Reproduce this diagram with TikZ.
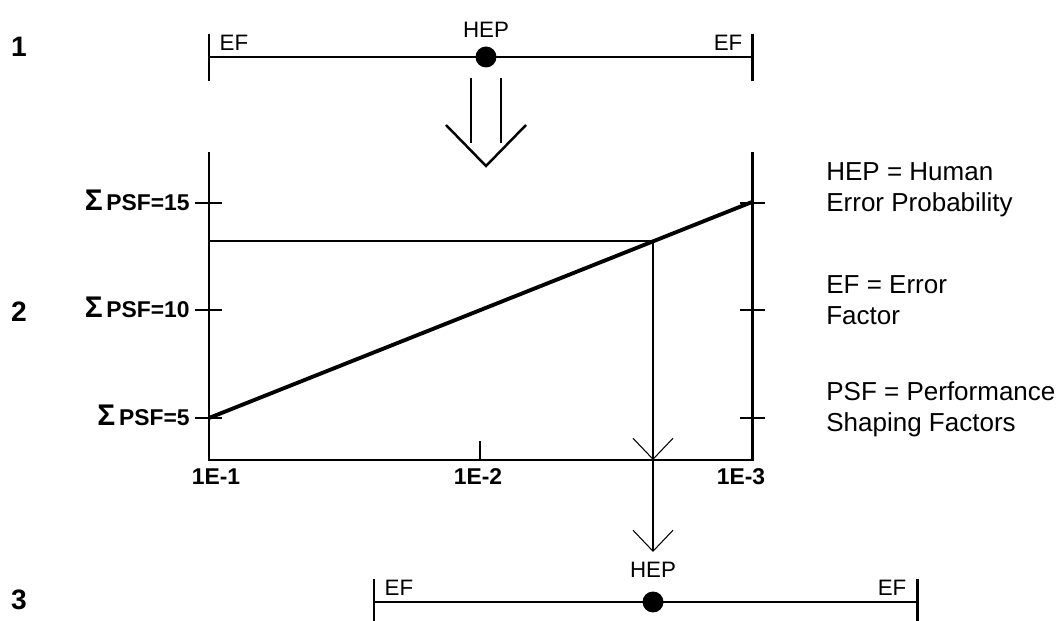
\documentclass[tikz,border=0pt]{standalone}
\usepackage{fontspec}
\setmainfont{Liberation Sans}
\usepackage{tikz}
\usetikzlibrary{arrows.meta, positioning, calc}

\begin{document}
\begin{tikzpicture}[x=0.02cm, y=-0.02cm,
    bar/.style={line width=1.7pt},
    thinline/.style={line width=0.6pt},
    barb/.style={-{Straight Barb[length=0.42cm, width=0.8cm, line width=0.6pt]}},
    dot/.style={circle, fill, inner sep=0pt, minimum size=0.42cm},
    lbl/.style={font=\fontsize{12.7}{14}\selectfont, inner sep=0pt},
    axlbl/.style={font=\fontsize{13}{14}\selectfont\bfseries, inner sep=0pt, anchor=north},
    rownum/.style={font=\fontsize{16}{18}\selectfont\bfseries, inner sep=0pt},
    psf/.style={font=\fontsize{13}{14}\selectfont\bfseries, inner sep=0pt, anchor=base east},
    key/.style={font=\fontsize{14.8}{17.5}\selectfont, align=left, anchor=west, inner sep=0pt}]
  \useasboundingbox (0,0) rectangle (1062,621);
  % Row numbers
  \node[rownum] (row1) at (19,47) {1};
  \node[rownum] (row2) at (19,312) {2};
  \node[rownum] (row3) at (19,600) {3};
  \begin{scope}
    % Bar 1
    \coordinate (ef1l) at (209,57);
    \coordinate (ef1r) at (752,57);
    \draw[bar] (ef1l) -- (ef1r);
    \foreach \x in {209,752} \draw[bar] (\x,34) -- (\x,81);
    \node[dot] (hep1) at (486,57) {};
    \node[lbl] (hep1lbl) at (486,30) {HEP};
    \node[lbl] (ef1lbl) at (234,43) {EF};
    \node[lbl] (ef1rlbl) at (728,43) {EF};
    % Big arrow
    \draw[line width=1.4pt] (471,78) -- (471,143);
    \draw[line width=1.4pt] (501,78) -- (501,143);
    \draw[line width=1.4pt] (446,125) -- (486,166) -- (526,125);
  \end{scope}
  \begin{scope}
    % Axes
    \coordinate (tl) at (209,152);
    \coordinate (o) at (209,460);
    \coordinate (br) at (752,460);
    \coordinate (tr) at (752,152);
    \draw[bar] (tl) -- (o) -- (br) -- (tr);
    \foreach \y/\v in {418/5, 310/10, 203/15} {
      \draw[bar] (195,\y) -- (222,\y);
      \draw[bar] (740,\y) -- (765,\y);
      \node[psf] (psf\v) at (190,\y+8) {{\fontsize{17}{17}\selectfont Σ}\,PSF=\v};
    }
    \draw[bar] (480,441) -- (480,460);
    \node[axlbl] (x1) at (216,468) {1E-1};
    \node[axlbl] (x2) at (478,468) {1E-2};
    \node[axlbl] (x3) at (741,468) {1E-3};
    % Line
    \coordinate (p5) at (209,418);
    \coordinate (p15) at (752,202);
    \draw[line width=2.2pt] (p5) -- (p15);
    % Reading
    \coordinate (hit) at (653,241);
    \coordinate (foot) at (hit |- o);
    \draw[thinline] (hit) -- (hit -| o);
    \draw[thinline, barb] (hit) -- (foot);
  \end{scope}
  \begin{scope}
    % Bar 3
    \coordinate (ef3l) at (374,602);
    \coordinate (ef3r) at (917,602);
    \draw[bar] (ef3l) -- (ef3r);
    \foreach \x in {374,917} \draw[bar] (\x,579) -- (\x,625);
    \node[dot] (hep3) at (653,602) {};
    \node[lbl] (hep3lbl) at (653,570) {HEP};
    \node[lbl] (ef3lbl) at (399,588) {EF};
    \node[lbl] (ef3rlbl) at (892,588) {EF};
    \draw[thinline, barb] (foot) -- ([yshift=0.2cm]hep3lbl.north);
  \end{scope}
  % Key
  \node[key] (k1) at (826,190) {HEP = Human\\Error Probability};
  \node[key] (k2) at (826,300) {EF = Error\\Factor};
  \node[key] (k3) at (826,409) {PSF = Performance\\Shaping Factors};
\end{tikzpicture}
\end{document}
